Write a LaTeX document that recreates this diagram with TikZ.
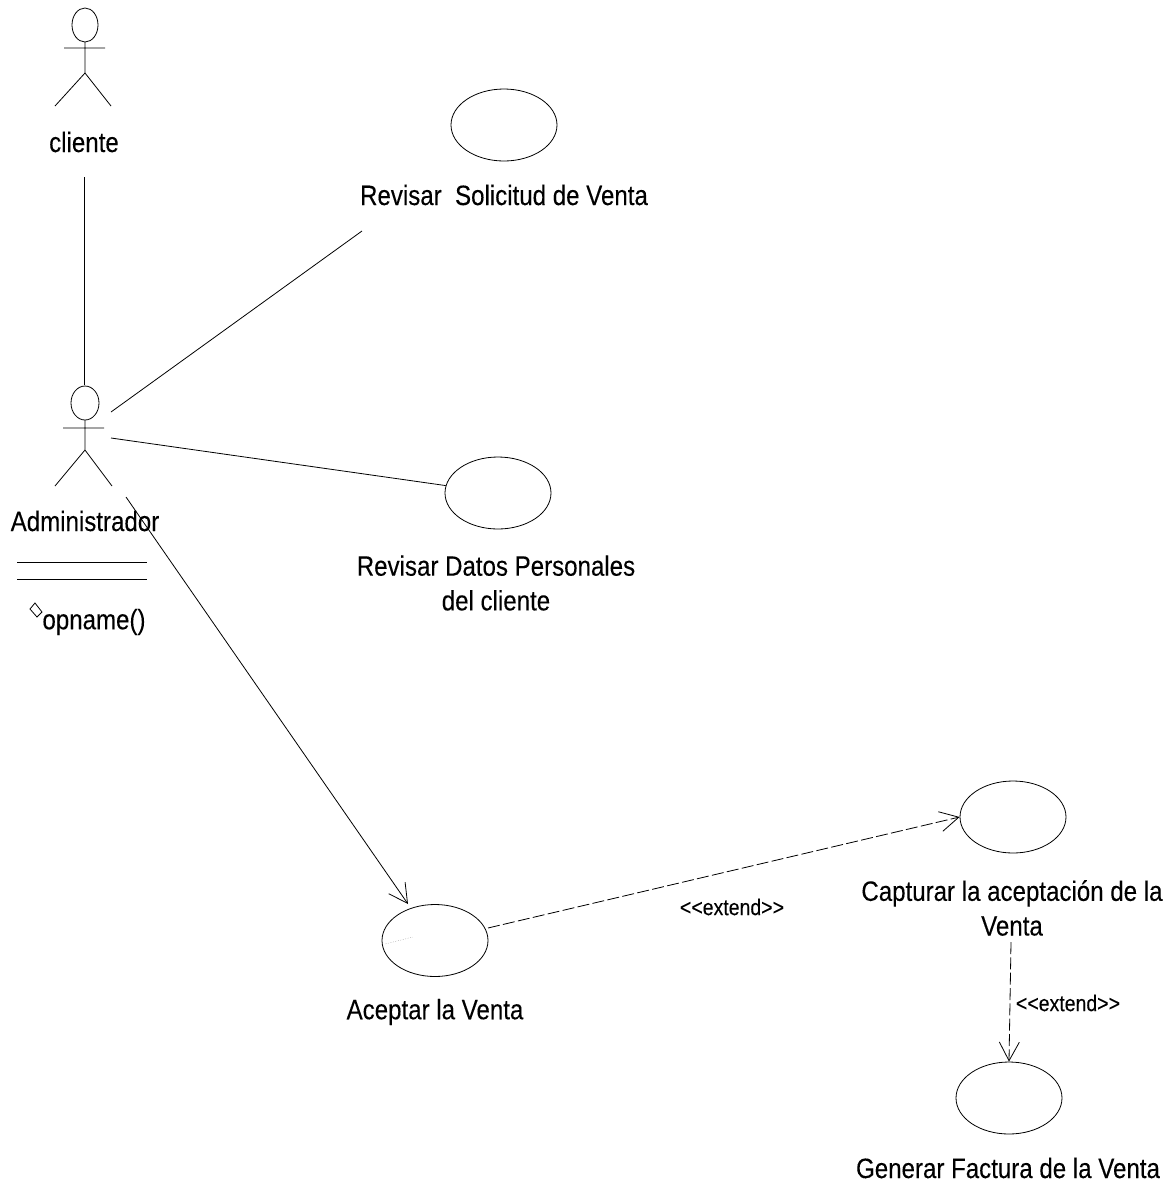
\documentclass[tikz,border=0pt]{standalone}
\usepackage{fontspec}
\setmainfont[FakeStretch=0.86,FakeBold=0.15]{Liberation Sans}
\usetikzlibrary{arrows.meta,shapes.geometric}
\tikzset{
  usecase/.style={draw,ellipse,minimum width=79.5pt,minimum height=54pt,inner sep=0pt},
  uclabel/.style={font=\fontsize{21pt}{26pt}\selectfont,align=center,inner sep=0pt},
  smalllabel/.style={font=\fontsize{17pt}{20pt}\selectfont,inner sep=0pt},
  assoc/.style={line width=0.6pt},
  extendline/.style={line width=0.6pt,dash pattern={on 9pt off 2.5pt},-{Straight Barb[length=14pt,width=15pt,line width=0.6pt]}}
}
\begin{document}
\begin{tikzpicture}[x=0.75pt,y=0.75pt,yscale=-1,line width=0.6pt]
\useasboundingbox (0,0) rectangle (1173,1186);

%Shape: Actor cliente
\draw (85,25) ellipse (13 and 17);
\draw (85,42) -- (85,73) (64,48) -- (105,48) (55,106) -- (85,73) -- (111,106);
%Shape: Actor Administrador
\draw (85,403) ellipse (14 and 17);
\draw (85,420) -- (85,450) (63,428) -- (104,428) (55,486) -- (85,450) -- (112,486);
%Class compartments
\draw (17,562) -- (147,562) (17,579) -- (147,579);
%Shape: Diamond
\draw (30,609) -- (35,603) -- (42,612) -- (37,617) -- cycle;

%Shape: Ellipses
\node [usecase] (revisarUC) at (504,125) {};
\node [usecase] (datosUC) at (498,493) {};
\node [usecase] (aceptarUC) at (435,940.5) {};
\node [usecase] (capturarUC) at (1013,817) {};
\node [usecase] (generarUC) at (1009,1098) {};

% Text Node
\node [uclabel] (cliente) at (84,142) {cliente};
\node [uclabel] (admin) at (85,521) {Administrador};
\node [uclabel] (opname) at (94,622) {opname()};
\node [uclabel] (revisar) at (504,195) {Revisar\ \ Solicitud de Venta};
\node [uclabel] (datos) at (496,583) {Revisar Datos Personales\\del cliente};
\node [uclabel] (aceptar) at (435,1012) {Aceptar la Venta};
\node [uclabel] (capturar) at (1012,908) {Capturar la aceptación de la\\Venta};
\node [uclabel] (generar) at (1008,1168) {Generar Factura de la Venta};
\node [smalllabel] (ext1) at (732,907) {<{}<extend>{}>};
\node [smalllabel] (ext2) at (1068,1003) {<{}<extend>{}>};

%Free ends
\coordinate (clienteEnd) at (84,177);
\coordinate (adminTop) at (84,385);
\coordinate (adminA) at (111,412);
\coordinate (revisarEnd) at (362,231);
\coordinate (adminB) at (111,438);
\coordinate (adminC) at (126,497);
\coordinate (aceptarTip) at (408,904);
\coordinate (speckA) at (385,944);
\coordinate (speckB) at (413,937);
\coordinate (aceptarOut) at (488,928);
\coordinate (capturarOut) at (1011,942);

%Straight Lines
\draw [assoc] (clienteEnd) -- (adminTop);
\draw [assoc] (adminA) -- (revisarEnd);
\draw [assoc] (adminB) -- (datosUC);
\draw [assoc,-{Straight Barb[length=14pt,width=15pt,line width=0.6pt]}] (adminC) -- (aceptarTip);
\draw [extendline] (aceptarOut) -- (capturarUC.west);
\draw [extendline] (capturarOut) -- (generarUC.north);
\draw [line width=0.3pt,gray,densely dotted] (speckA) -- (speckB);
\end{tikzpicture}
\end{document}
